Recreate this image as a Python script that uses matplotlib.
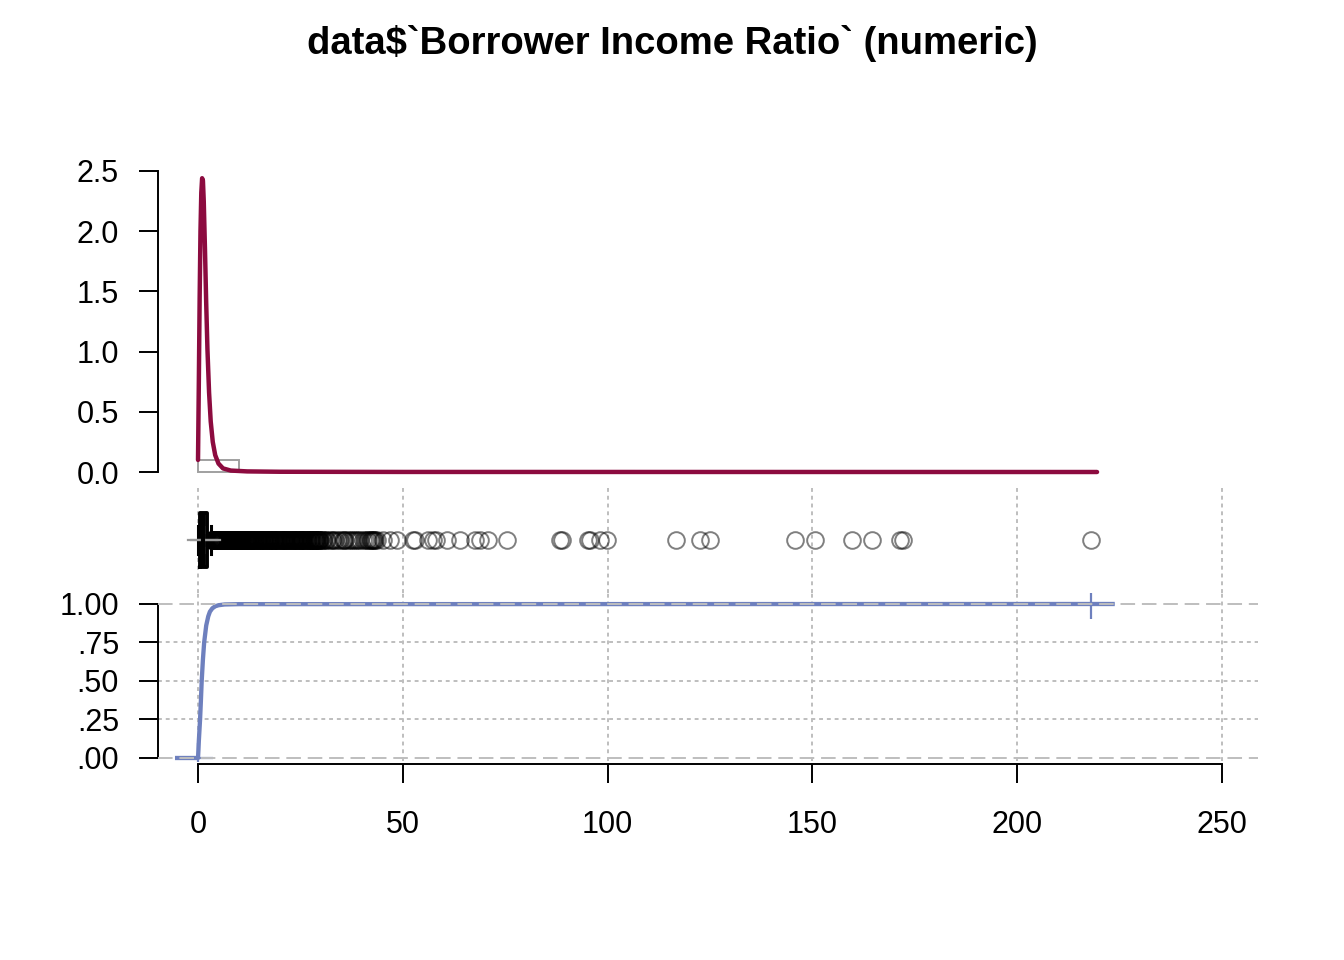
import numpy as np
import matplotlib
matplotlib.use("Agg")
import matplotlib.pyplot as plt

plt.rcParams['font.family'] = ['Liberation Sans', 'DejaVu Sans']

# density curve
dens_x = [0.0, 0.2, 0.4, 0.6, 0.8, 1.0, 1.2, 1.4, 1.7, 2.0, 2.3, 2.7, 3.1, 3.6, 4.2,
          5.0, 6.1, 8.0, 12.0, 20.0, 50.0, 219.5]
dens_y = [0.10, 0.75, 1.45, 2.0, 2.32, 2.44, 2.42, 2.25, 1.85, 1.40, 1.02, 0.66,
          0.42, 0.25, 0.14, 0.07, 0.03, 0.012, 0.005, 0.002, 0.0005, 0.0]

# histogram (density scale), bins of width 10
hist_edges = [0, 10, 20, 30, 40, 50, 60, 70, 80, 90, 100, 110, 120, 130, 140, 150,
              160, 170, 180, 190, 200, 210, 220]
hist_dens = [0.0995, 0.0003, 0.0001, 0.00005, 0.00004, 0.00002, 0.00002, 0.00001,
             0.00001, 0.00001, 0.0, 0.00001, 0.00001, 0.0, 0.00001, 0.00001, 0.00001,
             0.00001, 0.0, 0.0, 0.0, 0.00001]

# boxplot stats
box_whislo, box_q1, box_med, box_q3, box_whishi = 0.0, 0.5, 1.2, 2.1, 3.2
box_mean, box_sd = 1.5, 3.9

outliers = [3.3, 3.4, 3.5, 3.6, 3.7, 3.8, 3.9, 4.0, 4.1, 4.2, 4.3, 4.4, 4.5, 4.6, 4.7,
            4.8, 4.9, 5.0, 5.1, 5.2, 5.3, 5.4, 5.5, 5.6, 5.7, 5.8, 5.9, 6.0, 6.2, 6.4,
            6.6, 6.8, 7.0, 7.2, 7.4, 7.6, 7.8, 8.0, 8.2, 8.4, 8.6, 8.8, 9.0, 9.2, 9.4,
            9.6, 9.8, 10.0, 10.2, 10.5, 10.7, 11.0, 11.2, 11.5, 11.7, 12.0, 12.2, 12.5,
            12.7, 13.0, 13.3, 13.5, 13.8, 14.0, 14.3, 14.6, 14.9, 15.2, 15.4, 15.7,
            16.0, 16.2, 16.5, 16.8, 17.1, 17.4, 17.6, 17.9, 18.2, 18.5, 18.8, 19.0,
            19.3, 19.6, 19.9, 20.2, 20.5, 20.8, 21.1, 21.3, 21.6, 21.9, 22.2, 22.5,
            22.8, 23.1, 23.4, 23.6, 23.9, 24.2, 24.5, 24.8, 25.1, 25.4, 25.6, 25.9,
            26.2, 26.5, 26.8, 27.1, 27.4, 27.6, 27.9, 28.2, 28.5, 28.8, 29.0, 29.3,
            29.6, 29.9, 30.5, 31.2, 32.2, 33.0, 34.1, 35.4, 36.0, 37.1, 38.2, 39.0,
            40.3, 41.2, 42.0, 42.5, 43.0, 43.7, 45.2, 46.9, 48.6, 52.5, 53.0, 56.2,
            57.4, 58.0, 60.8, 64.0, 67.6, 68.8, 70.8, 75.5, 88.4, 88.9, 95.2, 95.7,
            98.1, 99.9, 116.7, 122.6, 125.0, 145.8, 150.6, 159.7, 164.6, 171.4, 172.1,
            218.0]
# the many overlapping outliers that make the solid black band
outliers_dense = [3.35, 3.45, 3.55, 3.65, 3.75, 3.85, 3.95, 4.05, 4.15, 4.25, 4.35,
                  4.45, 4.55, 4.65, 4.75, 4.85, 5.05, 5.25, 5.45, 5.65, 5.85, 6.1,
                  6.3, 6.5, 6.7, 6.9, 7.1, 7.3, 7.5, 7.7, 7.9, 8.1, 8.3, 8.5, 8.7, 8.9,
                  9.1, 9.3, 9.5, 9.7, 9.9, 10.1, 10.35, 10.6, 10.85, 11.1, 11.35, 11.6,
                  11.85, 12.1, 12.35, 12.6, 12.85, 13.15, 13.4, 13.65, 13.9, 14.15,
                  14.45, 14.75, 15.05, 15.3, 15.55, 15.85, 16.1, 16.35, 16.65, 16.95,
                  17.25, 17.5, 17.75, 18.05, 18.35, 18.65, 18.9, 19.15, 19.45, 19.75,
                  20.05, 20.35, 20.65, 20.95, 21.2, 21.45, 21.75, 22.05, 22.35, 22.65,
                  22.95, 23.25, 23.5, 23.75, 24.05, 24.35, 24.65, 24.95, 25.25, 25.5,
                  25.75, 26.05, 26.35, 26.65, 26.95, 27.25, 27.5, 27.75, 28.05, 28.35,
                  28.65, 28.9, 29.15, 29.45, 29.75, 30.2, 30.8, 31.6, 32.6, 33.5, 34.6,
                  35.7, 36.5, 37.6, 38.6, 39.6, 40.8, 41.6, 42.2, 42.8, 43.3]

# empirical cdf
ecdf_x = [-5.1, 0.0, 0.1, 0.2, 0.35, 0.5, 0.7, 0.9, 1.2, 1.5, 2.0, 2.5, 2.9, 3.5,
          4.2, 5.0, 6.5, 10.0, 218.0, 223.3]
ecdf_y = [0.0, 0.0, 0.05, 0.11, 0.18, 0.25, 0.37, 0.50, 0.64, 0.75, 0.86, 0.92, 0.95,
          0.972, 0.985, 0.992, 0.997, 0.999, 1.0, 1.0]
ecdf_min, ecdf_max = 0.0, 218.0

red = '#8C0B3F'
blue = '#6E80BE'
grey = '#BEBEBE'
xlim = (-9.77, 258.8)
lw_ax = 1.4
fs = 22

fig = plt.figure(figsize=(13.44, 9.6), dpi=100)
fig.text(0.5, 1 - 43 / 960, "data$`Borrower Income Ratio` (numeric)",
         ha='center', va='center', fontsize=27.5, fontweight='bold')

L, W = 158 / 1344, 1100 / 1344

# top panel: density + histogram
ax1 = fig.add_axes([L, 1 - 478 / 960, W, 313 / 960])
ax1.bar(hist_edges[:-1], hist_dens, width=10, align='edge', fill=False,
        edgecolor='#A0A0A0', linewidth=1.4)
ax1.plot(dens_x, dens_y, color=red, lw=3.2, solid_capstyle='round')
ax1.set_xlim(xlim)
ax1.set_ylim(-0.0498, 2.5498)
for s in ['top', 'right', 'bottom']:
    ax1.spines[s].set_visible(False)
ax1.spines['left'].set_bounds(0, 2.5)
ax1.spines['left'].set_linewidth(lw_ax)
ax1.set_yticks([0, 0.5, 1.0, 1.5, 2.0, 2.5])
ax1.set_yticklabels(['0.0', '0.5', '1.0', '1.5', '2.0', '2.5'])
ax1.set_xticks([])
ax1.tick_params(axis='y', labelsize=fs, length=14, width=lw_ax, pad=14)

# middle panel: boxplot
ax2 = fig.add_axes([L, 1 - 593 / 960, W, 106 / 960])
ax2.set_xlim(xlim)
ax2.set_ylim(0.5, 1.5)
ax2.axis('off')
for gx in [0, 50, 100, 150, 200, 250]:
    ax2.axvline(gx, color=grey, lw=1.4, ls=(0, (2, 2)), zorder=0)
ax2.plot(outliers + outliers_dense, [1.0] * (len(outliers) + len(outliers_dense)),
         'o', ms=12, mfc='none', mec=(0, 0, 0, 0.5), mew=1.4)
ax2.bxp([dict(med=box_med, q1=box_q1, q3=box_q3, whislo=box_whislo,
              whishi=box_whishi, fliers=[])],
        positions=[1.0], widths=0.51, vert=False, showfliers=False,
        boxprops=dict(color='black', lw=2.8),
        medianprops=dict(color='black', lw=3),
        whiskerprops=dict(color='black', lw=1.4, ls='--'),
        capprops=dict(color='black', lw=2.2), capwidths=0.26,
        manage_ticks=False)
ax2.plot([box_mean - box_sd, box_mean + box_sd], [1.0, 1.0], color='#999999', lw=1.6)
ax2.plot([box_mean], [1.0], '+', color='#999999', ms=20, mew=1.6)

# bottom panel: ecdf
ax3 = fig.add_axes([L, 1 - 761 / 960, W, 168 / 960])
ax3.set_xlim(xlim)
ax3.set_ylim(-0.0195, 1.0714)
for gx in [0, 50, 100, 150, 200, 250]:
    ax3.axvline(gx, color=grey, lw=1.4, ls=(0, (2, 2)), zorder=0)
for gy in [0.25, 0.5, 0.75]:
    ax3.axhline(gy, color=grey, lw=1.4, ls=(0, (2, 2)), zorder=0)
for gy in [0.0, 1.0]:
    ax3.axhline(gy, color=grey, lw=1.4, ls=(0, (7.5, 3.5)), zorder=3)
ax3.plot(ecdf_x, ecdf_y, color=blue, lw=3.1, zorder=2)
ax3.plot([ecdf_min, ecdf_max], [0.0, 1.0], '+', color=blue, ms=21, mew=1.6, zorder=2)
for s in ['top', 'right']:
    ax3.spines[s].set_visible(False)
ax3.spines['left'].set_bounds(0, 1)
ax3.spines['bottom'].set_bounds(0, 250)
ax3.spines['bottom'].set_position(('outward', 2.2))
for s in ['left', 'bottom']:
    ax3.spines[s].set_linewidth(lw_ax)
ax3.set_yticks([0, 0.25, 0.5, 0.75, 1.0])
ax3.set_yticklabels(['.00', '.25', '.50', '.75', '1.00'])
ax3.set_xticks([0, 50, 100, 150, 200, 250])
ax3.tick_params(axis='y', labelsize=fs, length=14, width=lw_ax, pad=14)
ax3.tick_params(axis='x', labelsize=fs, length=14, width=lw_ax, pad=19)

fig.savefig('out.png', dpi=100)
